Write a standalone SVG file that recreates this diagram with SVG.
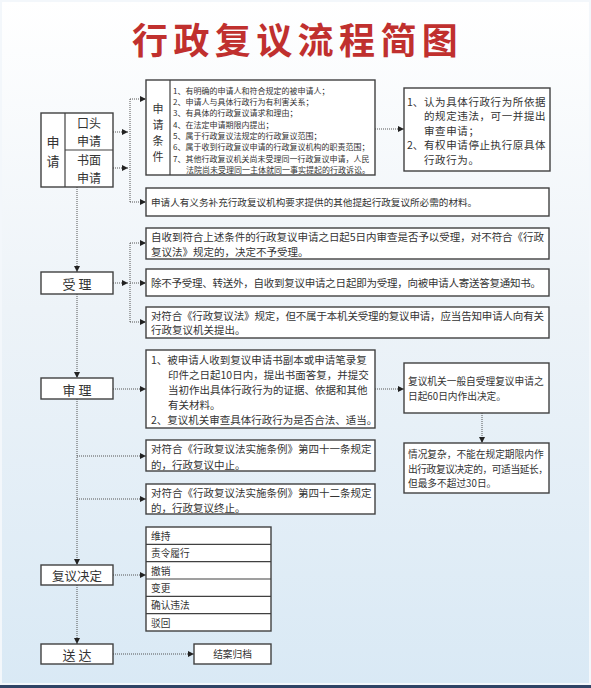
<svg xmlns="http://www.w3.org/2000/svg" width="591" height="688" viewBox="0 0 591 688">
<defs>
<linearGradient id="bg" x1="0" y1="0" x2="0" y2="1">
<stop offset="0" stop-color="#ffffff"/>
<stop offset="0.45" stop-color="#edf3f8"/>
<stop offset="1" stop-color="#d9e9f5"/>
</linearGradient>
<marker id="ah" markerWidth="6" markerHeight="6" refX="6" refY="3" orient="auto" markerUnits="userSpaceOnUse">
<path d="M0,0 L6,3 L0,6 Z" fill="#222"/>
</marker>
<style>
.box{fill:#fff;stroke:#404040;stroke-width:1.4}
.sep{stroke:#404040;stroke-width:1.2}
.t{font-family:"Noto Sans CJK SC","Noto Sans",sans-serif;fill:#333;dominant-baseline:central}
.lb{font-size:13px;text-anchor:middle}
.lb2{font-size:12px;text-anchor:middle}
.s8{font-size:8px}
.s10{font-size:10.5px}
.s96{font-size:9.7px}
.c{stroke:#555;stroke-width:1;stroke-dasharray:1 1;fill:none}
.a{marker-end:url(#ah)}
</style>
</defs>
<rect x="0" y="0" width="591" height="688" fill="url(#bg)"/>
<rect x="1" y="1" width="589" height="683" fill="none" stroke="#f3f7fb" stroke-width="2"/>
<rect x="0" y="685" width="591" height="3" fill="#2f4466"/>

<g id="title">
<text x="132" y="38" font-family="'Noto Sans CJK SC',sans-serif" font-weight="700" font-size="36" letter-spacing="5.4" fill="#c0302e" dominant-baseline="central">行政复议流程简图</text>
</g>

<g id="connectors">
<path class="c a" d="M113,132 H128"/>
<path class="c a" d="M113,168 H128"/>
<path class="c" d="M130,99 V202"/>
<path class="c a" d="M130,99 H146"/>
<path class="c a" d="M130,202 H146"/>
<path class="c a" d="M375,129 H404"/>
<path class="c a" d="M77,187 V272"/>
<path class="c a" d="M113,283 H128"/>
<path class="c" d="M130,243 V322"/>
<path class="c a" d="M130,243 H146"/>
<path class="c a" d="M130,283 H146"/>
<path class="c a" d="M130,322 H146"/>
<path class="c a" d="M77,294 V378"/>
<path class="c a" d="M113,389 H146"/>
<path class="c a" d="M375,389 H404"/>
<path class="c a" d="M482,413 V443"/>
<path class="c a" d="M77,399 V565"/>
<path class="c a" d="M77,456 H146"/>
<path class="c a" d="M77,499 H146"/>
<path class="c a" d="M113,575 H146"/>
<path class="c a" d="M77,585 V644"/>
<path class="c a" d="M113,654 H194"/>
</g>

<g id="apply">
<rect class="box" x="41" y="113" width="72" height="74"/>
<line class="sep" x1="65" y1="113" x2="65" y2="187"/>
<line class="sep" x1="65" y1="150" x2="113" y2="150"/>
<text class="t lb" x="53" y="141">申</text>
<text class="t lb" x="53" y="160">请</text>
<text class="t lb2" x="89" y="122.5">口头</text>
<text class="t lb2" x="89" y="140.5">申请</text>
<text class="t lb2" x="89" y="159.5">书面</text>
<text class="t lb2" x="89" y="177.5">申请</text>
</g>

<g id="conditions">
<rect class="box" x="146" y="80" width="229" height="95"/>
<line class="sep" x1="170" y1="80" x2="170" y2="175"/>
<text class="t" x="158" y="108" font-size="11" text-anchor="middle">申</text>
<text class="t" x="158" y="124" font-size="11" text-anchor="middle">请</text>
<text class="t" x="158" y="140" font-size="11" text-anchor="middle">条</text>
<text class="t" x="158" y="156" font-size="11" text-anchor="middle">件</text>
<text class="t s8" x="173" y="90">1、有明确的申请人和符合规定的被申请人；</text>
<text class="t s8" x="173" y="101">2、申请人与具体行政行为有利害关系；</text>
<text class="t s8" x="173" y="112">3、有具体的行政复议请求和理由；</text>
<text class="t s8" x="173" y="124">4、在法定申请期限内提出；</text>
<text class="t s8" x="173" y="135">5、属于行政复议法规定的行政复议范围；</text>
<text class="t s8" x="173" y="146">6、属于收到行政复议申请的行政复议机构的职责范围；</text>
<text class="t s8" x="173" y="158">7、其他行政复议机关尚未受理同一行政复议申请，人民</text>
<text class="t s8" x="186" y="169">法院尚未受理同一主体就同一事实提起的行政诉讼。</text>
</g>

<g id="rights">
<rect class="box" x="404" y="88" width="146" height="83"/>
<text class="t s10" x="407" y="101">1、</text>
<text class="t s10" x="424" y="101" letter-spacing="0.6">认为具体行政行为所依据</text>
<text class="t s10" x="424" y="115.5" letter-spacing="0.6">的规定违法，可一并提出</text>
<text class="t s10" x="424" y="130" letter-spacing="0.6">审查申请；</text>
<text class="t s10" x="407" y="144.5">2、</text>
<text class="t s10" x="424" y="144.5" letter-spacing="0.6">有权申请停止执行原具体</text>
<text class="t s10" x="424" y="159" letter-spacing="0.6">行政行为。</text>
</g>

<g id="supplement">
<rect class="box" x="146" y="188" width="403" height="28"/>
<text class="t" x="151" y="202" font-size="9.6">申请人有义务补充行政复议机构要求提供的其他提起行政复议所必需的材料。</text>
</g>

<g id="accept">
<rect class="box" x="41" y="272" width="72" height="22"/>
<text class="t lb" x="77" y="283">受 理</text>
</g>
<g id="accept-a">
<rect class="box" x="146" y="228" width="403" height="31"/>
<text class="t s10" x="151" y="236" textLength="393" lengthAdjust="spacing">自收到符合上述条件的行政复议申请之日起5日内审查是否予以受理，对不符合《行政</text>
<text class="t s10" x="151" y="251">复议法》规定的，决定不予受理。</text>
</g>
<g id="accept-b">
<rect class="box" x="146" y="269" width="403" height="27"/>
<text class="t s10" x="151" y="282" textLength="390" lengthAdjust="spacing">除不予受理、转送外，自收到复议申请之日起即为受理，向被申请人寄送答复通知书。</text>
</g>
<g id="accept-c">
<rect class="box" x="146" y="307" width="403" height="31"/>
<text class="t s10" x="151" y="315" textLength="393" lengthAdjust="spacing">对符合《行政复议法》规定，但不属于本机关受理的复议申请，应当告知申请人向有关</text>
<text class="t s10" x="151" y="329">行政复议机关提出。</text>
</g>

<g id="review">
<rect class="box" x="41" y="378" width="72" height="21"/>
<text class="t lb" x="77" y="389">审 理</text>
</g>
<g id="review-d">
<rect class="box" x="146" y="350" width="229" height="78"/>
<text class="t s10" x="151" y="359">1、被申请人收到复议申请书副本或申请笔录复</text>
<text class="t s10" x="168" y="374">印件之日起10日内，提出书面答复，并提交</text>
<text class="t s10" x="168" y="389">当初作出具体行政行为的证据、依据和其他</text>
<text class="t s10" x="168" y="404">有关材料。</text>
<text class="t s10" x="151" y="419">2、复议机关审查具体行政行为是否合法、适当。</text>
</g>
<g id="review-e">
<rect class="box" x="404" y="363" width="145" height="50"/>
<text class="t s96" x="408" y="381">复议机关一般自受理复议申请之</text>
<text class="t s96" x="408" y="396">日起60日内作出决定。</text>
</g>
<g id="review-f">
<rect class="box" x="404" y="443" width="145" height="50"/>
<text class="t s96" x="408" y="454">情况复杂，不能在规定期限内作</text>
<text class="t s96" x="408" y="469" textLength="140" lengthAdjust="spacing">出行政复议决定的，可适当延长，</text>
<text class="t s96" x="408" y="483">但最多不超过30日。</text>
</g>
<g id="suspend">
<rect class="box" x="146" y="440" width="229" height="31"/>
<text class="t s10" x="151" y="448">对符合《行政复议法实施条例》第四十一条规定</text>
<text class="t s10" x="151" y="464">的，行政复议中止。</text>
</g>
<g id="terminate">
<rect class="box" x="146" y="484" width="229" height="30"/>
<text class="t s10" x="151" y="492">对符合《行政复议法实施条例》第四十二条规定</text>
<text class="t s10" x="151" y="507">的，行政复议终止。</text>
</g>

<g id="decision">
<rect class="box" x="41" y="565" width="72" height="20"/>
<text class="t" x="77" y="575" font-size="12.5" text-anchor="middle">复议决定</text>
</g>
<g id="decision-list">
<rect class="box" x="146" y="527" width="125" height="104"/>
<line class="sep" x1="146" y1="544.3" x2="271" y2="544.3"/>
<line class="sep" x1="146" y1="561.7" x2="271" y2="561.7"/>
<line class="sep" x1="146" y1="579" x2="271" y2="579"/>
<line class="sep" x1="146" y1="596.3" x2="271" y2="596.3"/>
<line class="sep" x1="146" y1="613.7" x2="271" y2="613.7"/>
<text class="t s96" x="151" y="536">维持</text>
<text class="t s96" x="151" y="553">责令履行</text>
<text class="t s96" x="151" y="570.5">撤销</text>
<text class="t s96" x="151" y="588">变更</text>
<text class="t s96" x="151" y="605">确认违法</text>
<text class="t s96" x="151" y="622.5">驳回</text>
</g>

<g id="deliver">
<rect class="box" x="41" y="644" width="72" height="20"/>
<text class="t lb" x="77" y="654">送 达</text>
</g>
<g id="archive">
<rect class="box" x="194" y="644" width="77" height="20"/>
<text class="t s96" x="232.5" y="654" text-anchor="middle">结案归档</text>
</g>
</svg>
